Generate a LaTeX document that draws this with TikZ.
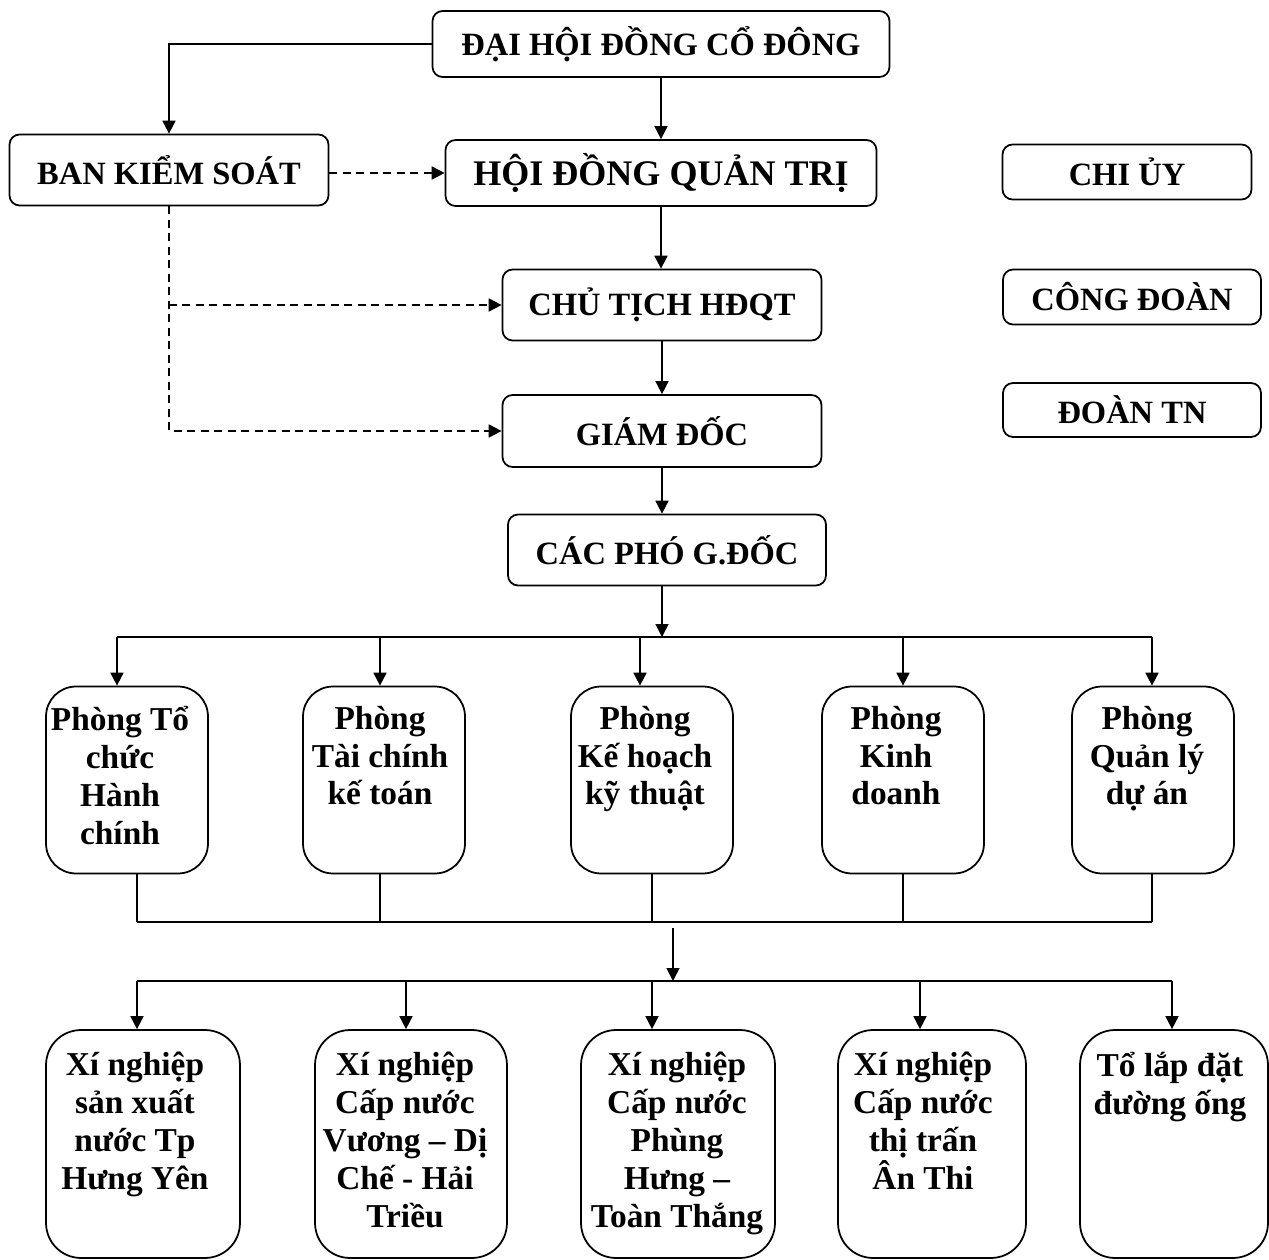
\documentclass[tikz,border=0pt]{standalone}
\usepackage{fontspec}
\setmainfont{Liberation Serif}
\usetikzlibrary{arrows.meta}
\begin{document}
\begin{tikzpicture}[x=0.02cm,y=-0.02cm,line width=1pt,
  box/.style={draw,rounded corners=2mm,font=\bfseries\fontsize{18.5}{22}\selectfont},
  dept/.style={draw,rounded corners=6mm,minimum width=3.24cm,minimum height=3.74cm},
  unit/.style={draw,rounded corners=7mm,minimum width=3.88cm,minimum height=4.56cm},
  lbl/.style={anchor=north,inner sep=0pt,align=center,font=\bfseries\fontsize{19}{21.6}\selectfont},
  arr/.style={-{Triangle[length=2.6mm,width=2.6mm]}},
  dasharr/.style={arr,dash pattern=on 1.6mm off 1.1mm}]
  \useasboundingbox (0,0) rectangle (1269,1260);
  % top of the chart
  \node[box,minimum width=9.14cm,minimum height=1.32cm] (dhd) at (661,44) {ĐẠI HỘI ĐỒNG CỔ ĐÔNG};
  \node[box,minimum width=6.38cm,minimum height=1.42cm] (bks) at (169,170) {BAN KIỂM SOÁT};
  \node[box,minimum width=8.62cm,minimum height=1.32cm,font=\bfseries\fontsize{20.5}{24}\selectfont] (hdqt) at (661,173) {HỘI ĐỒNG QUẢN TRỊ};
  \node[box,minimum width=6.38cm,minimum height=1.42cm] (ct) at (662,305) {CHỦ TỊCH HĐQT};
  \node[box,minimum width=6.38cm,minimum height=1.44cm] (gd) at (662,431) {GIÁM ĐỐC};
  \node[box,minimum width=6.36cm,minimum height=1.42cm] (pgd) at (667,550) {CÁC PHÓ G.ĐỐC};
  \node[box,minimum width=4.98cm,minimum height=1.1cm] (chiuy) at (1127,172) {CHI ỦY};
  \node[box,minimum width=5.16cm,minimum height=1.1cm] (cdoan) at (1132,297) {CÔNG ĐOÀN};
  \node[box,minimum width=5.16cm,minimum height=1.08cm] (dtn) at (1132,410) {ĐOÀN TN};
  % phong ban
  \node[dept] (p1) at (127,780) {};
  \node[lbl] (p1t) at (120,705) {Phòng Tổ\\chức\\Hành\\chính};
  \node[dept] (p2) at (384,780) {};
  \node[lbl] (p2t) at (380,705) {Phòng\\Tài chính\\kế toán};
  \node[dept] (p3) at (652,780) {};
  \node[lbl] (p3t) at (645,705) {Phòng\\Kế hoạch\\kỹ thuật};
  \node[dept] (p4) at (903,780) {};
  \node[lbl] (p4t) at (896,705) {Phòng\\Kinh\\doanh};
  \node[dept] (p5) at (1153,780) {};
  \node[lbl] (p5t) at (1147,705) {Phòng\\Quản lý\\dự án};
  % xi nghiep
  \node[unit] (x1) at (143,1144) {};
  \node[lbl] (x1t) at (135,1051) {Xí nghiệp\\sản xuất\\nước Tp\\Hưng Yên};
  \node[unit,minimum width=3.84cm] (x2) at (411,1144) {};
  \node[lbl] (x2t) at (405,1051) {Xí nghiệp\\Cấp nước\\Vương – Dị\\Chế - Hải\\Triều};
  \node[unit] (x3) at (678,1144) {};
  \node[lbl] (x3t) at (677,1051) {Xí nghiệp\\Cấp nước\\Phùng\\Hưng –\\Toàn Thắng};
  \node[unit,minimum width=3.76cm] (x4) at (932,1144) {};
  \node[lbl] (x4t) at (923,1051) {Xí nghiệp\\Cấp nước\\thị trấn\\Ân Thi};
  \node[unit,minimum width=3.76cm] (x5) at (1174,1144) {};
  \node[lbl] (x5t) at (1170,1051) {Tổ lắp đặt\\đường ống};
  % connectors
  \draw[arr] (dhd.west) -| (bks.north);
  \draw[arr] (dhd.south) -- (hdqt.north);
  \draw[dasharr] (bks.east |- hdqt.west) -- (hdqt.west);
  \draw[arr] (hdqt.south) -- (hdqt.south |- ct.north);
  \draw[dasharr] (bks.south) |- (gd.west);
  \draw[dasharr] (bks.south |- ct.west) -- (ct.west);
  \draw[arr] (ct.south) -- (gd.north);
  \draw[arr] (gd.south) -- (gd.south |- pgd.north);
  \coordinate (d1) at (117,637);
  \coordinate (d2) at (380,637);
  \coordinate (d3) at (640,637);
  \coordinate (d4) at (903,637);
  \coordinate (d5) at (1152,637);
  \draw[arr] (gd.south |- pgd.south) -- (gd.south |- d1);
  \draw (d1) -- (d5);
  \draw[arr] (d1) -- (d1 |- p1.north);
  \draw[arr] (d2) -- (d2 |- p2.north);
  \draw[arr] (d3) -- (d3 |- p3.north);
  \draw[arr] (d4) -- (d4 |- p4.north);
  \draw[arr] (d5) -- (d5 |- p5.north);
  \coordinate (u1) at (137,922);
  \coordinate (u2) at (380,922);
  \coordinate (u3) at (652,922);
  \coordinate (u4) at (903,922);
  \coordinate (u5) at (1152,922);
  \draw (u1) -- (u5);
  \draw (u1 |- p1.south) -- (u1);
  \draw (u2 |- p2.south) -- (u2);
  \draw (u3 |- p3.south) -- (u3);
  \draw (u4 |- p4.south) -- (u4);
  \draw (u5 |- p5.south) -- (u5);
  \coordinate (m1) at (673,928);
  \coordinate (m2) at (673,981);
  \draw[arr] (m1) -- (m2);
  \coordinate (v1) at (137,981);
  \coordinate (v2) at (406,981);
  \coordinate (v3) at (652,981);
  \coordinate (v4) at (920,981);
  \coordinate (v5) at (1172,981);
  \draw (v1) -- (v5);
  \draw[arr] (v1) -- (v1 |- x1.north);
  \draw[arr] (v2) -- (v2 |- x2.north);
  \draw[arr] (v3) -- (v3 |- x3.north);
  \draw[arr] (v4) -- (v4 |- x4.north);
  \draw[arr] (v5) -- (v5 |- x5.north);
\end{tikzpicture}
\end{document}
